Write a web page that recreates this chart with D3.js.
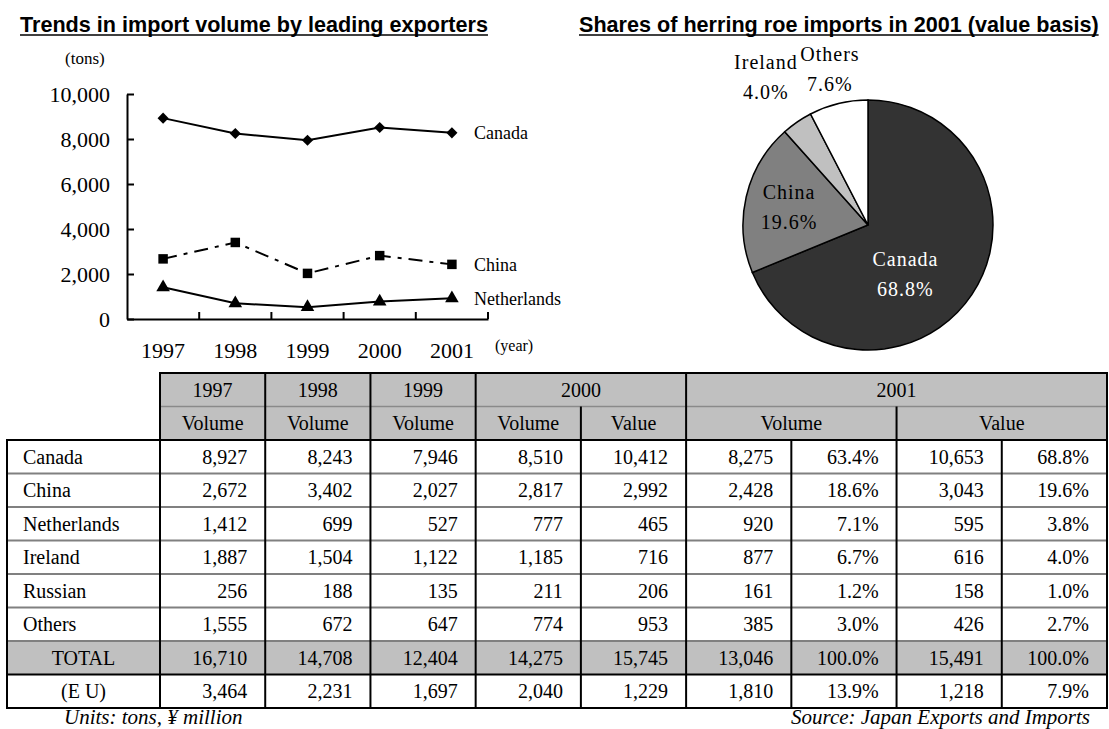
<!DOCTYPE html>
<html>
<head>
<meta charset="utf-8">
<script src="https://cdn.jsdelivr.net/npm/d3@7"></script>
<style>
  body { margin: 0; background: #fff; }
  text { font-family: "Liberation Serif", "Times New Roman", serif; fill: #000; }
</style>
</head>
<body>
<div id="chart"></div>
<script>
const years = ["1997", "1998", "1999", "2000", "2001"];
const rowNames = ["Canada", "China", "Netherlands", "Ireland", "Russian", "Others", "TOTAL", "(E U)"];
const vol1997 = [8927, 2672, 1412, 1887, 256, 1555, 16710, 3464];
const vol1998 = [8243, 3402, 699, 1504, 188, 672, 14708, 2231];
const vol1999 = [7946, 2027, 527, 1122, 135, 647, 12404, 1697];
const vol2000 = [8510, 2817, 777, 1185, 211, 774, 14275, 2040];
const val2000 = [10412, 2992, 465, 716, 206, 953, 15745, 1229];
const vol2001 = [8275, 2428, 920, 877, 161, 385, 13046, 1810];
const volShare2001 = [63.4, 18.6, 7.1, 6.7, 1.2, 3.0, 100.0, 13.9];
const val2001 = [10653, 3043, 595, 616, 158, 426, 15491, 1218];
const valShare2001 = [68.8, 19.6, 3.8, 4.0, 1.0, 2.7, 100.0, 7.9];

// line chart series (taken from the table rows)
const lineSeries = ["Canada", "China", "Netherlands"];
const yTicks = [0, 2000, 4000, 6000, 8000, 10000];

// pie
const pieNames = ["Canada", "China", "Ireland", "Others"];
const pieShares = [68.8, 19.6, 4.0, 7.6];
const pieColors = ["#333333", "#808080", "#c0c0c0", "#ffffff"];

const svg = d3.select("#chart").append("svg")
    .attr("width", 1109)
    .attr("height", 729);

svg.append("rect").attr("width", 1109).attr("height", 729).attr("fill", "#fff");

// underlined bold titles
function title(x, y, str) {
    const t = svg.append("text")
        .attr("x", x).attr("y", y)
        .style("font-family", "Arial, 'Liberation Sans', sans-serif")
        .style("font-weight", "bold")
        .style("font-size", "21.6px")
        .text(str);
    const w = t.node().getComputedTextLength();
    svg.append("line")
        .attr("x1", x).attr("x2", x + w)
        .attr("y1", y + 3).attr("y2", y + 3)
        .attr("stroke", "#000").attr("stroke-width", 1.5);
}
title(20, 32, "Trends in import volume by leading exporters");
title(579, 32, "Shares of herring roe imports in 2001 (value basis)");

// ---------- line chart ----------
const x = d3.scaleBand().domain(years).range([127, 488]);
const y = d3.scaleLinear().domain([0, 10000]).range([319, 94]);
const chart = svg.append("g");

const yAxis = chart.append("g")
    .attr("transform", "translate(127,0)")
    .call(d3.axisLeft(y).tickValues(yTicks).tickFormat(d3.format(","))
        .tickSize(-7).tickSizeOuter(0).tickPadding(17));
yAxis.selectAll("path, line").attr("stroke", "#000").attr("stroke-width", 2);
yAxis.selectAll("text").style("font-size", "22px").style("font-family", "'Liberation Serif', serif");

const xAxis = chart.append("g")
    .attr("transform", "translate(0,319)")
    .call(d3.axisBottom(x).tickSize(0).tickSizeOuter(0).tickPadding(23));
xAxis.select(".domain").attr("stroke", "#000").attr("stroke-width", 2);
xAxis.selectAll("text").style("font-size", "22px").style("font-family", "'Liberation Serif', serif");

// tick marks sit on the band boundaries
chart.append("g").selectAll("line")
    .data(years)
    .join("line")
    .attr("x1", d => x(d) + x.bandwidth())
    .attr("x2", d => x(d) + x.bandwidth())
    .attr("y1", 319).attr("y2", 312)
    .attr("stroke", "#000").attr("stroke-width", 2);

chart.append("text").attr("x", 65).attr("y", 64).style("font-size", "17px").text("(tons)");
chart.append("text").attr("x", 495).attr("y", 351).style("font-size", "16px").text("(year)");

const volCols = [vol1997, vol1998, vol1999, vol2000, vol2001];
const seriesDash = { Canada: null, China: "14,7,4,7", Netherlands: null };
const seriesSymbol = { Canada: d3.symbolSquare, China: d3.symbolSquare, Netherlands: d3.symbolTriangle };
const seriesSize = { Canada: 62, China: 90, Netherlands: 80 };

const line = d3.line()
    .x((d, i) => x(years[i]) + x.bandwidth() / 2)
    .y(d => y(d));

lineSeries.forEach(name => {
    const ri = rowNames.indexOf(name);
    const vals = volCols.map(c => c[ri]);

    chart.append("path")
        .datum(vals)
        .attr("d", line)
        .attr("fill", "none")
        .attr("stroke", "#000")
        .attr("stroke-width", 2)
        .attr("stroke-dasharray", seriesDash[name]);

    chart.append("g").selectAll("path")
        .data(vals)
        .join("path")
        .attr("d", d3.symbol().type(seriesSymbol[name]).size(seriesSize[name]))
        .attr("transform", (d, i) => {
            const px = x(years[i]) + x.bandwidth() / 2;
            const rot = name === "Canada" ? " rotate(45)" : "";
            return `translate(${px},${y(d)})${rot}`;
        })
        .attr("fill", "#000");

    chart.append("text")
        .attr("x", 474)
        .attr("y", y(vals[vals.length - 1]))
        .attr("dy", "0.35em")
        .style("font-size", "18px")
        .text(name);
});

// ---------- pie ----------
const pieR = 125;
const pieData = d3.pie().sort(null).value(d => d)(pieShares);
const arc = d3.arc().innerRadius(0).outerRadius(pieR);
const pg = svg.append("g").attr("transform", "translate(868,225)");

pg.selectAll("path")
    .data(pieData)
    .join("path")
    .attr("d", arc)
    .attr("fill", (d, i) => pieColors[i])
    .attr("stroke", "#000")
    .attr("stroke-width", 1.5);

// label distance from centre and angle nudge (degrees) for each slice
const labelDist = [62, 81, 180, 161];
const labelTurn = [19, 0, 0, 0];
const labelFill = ["#fff", "#000", "#000", "#000"];

pieData.forEach((d, i) => {
    const a = (d.startAngle + d.endAngle) / 2 + labelTurn[i] * Math.PI / 180;
    const lx = Math.sin(a) * labelDist[i];
    const ly = -Math.cos(a) * labelDist[i];
    const t = pg.append("text")
        .attr("text-anchor", "middle")
        .style("font-size", "20px")
        .style("letter-spacing", "1px")
        .style("fill", labelFill[i]);
    t.append("tspan").attr("x", lx).attr("y", ly - 15).attr("dy", "0.35em").text(pieNames[i]);
    t.append("tspan").attr("x", lx).attr("y", ly + 15).attr("dy", "0.35em").text(d3.format(".1f")(pieShares[i]) + "%");
});

// ---------- table ----------
const tableCols = [vol1997, vol1998, vol1999, vol2000, val2000, vol2001, volShare2001, val2001, valShare2001];
const colFormat = [",", ",", ",", ",", ",", ",", "%", ",", "%"];
const head1 = [
    { label: "1997", from: 0, to: 1 },
    { label: "1998", from: 1, to: 2 },
    { label: "1999", from: 2, to: 3 },
    { label: "2000", from: 3, to: 5 },
    { label: "2001", from: 5, to: 9 }
];
const head2 = [
    { label: "Volume", from: 0, to: 1 },
    { label: "Volume", from: 1, to: 2 },
    { label: "Volume", from: 2, to: 3 },
    { label: "Volume", from: 3, to: 4 },
    { label: "Value", from: 4, to: 5 },
    { label: "Volume", from: 5, to: 7 },
    { label: "Value", from: 7, to: 9 }
];

const tLeft = 7;
const cx = d3.scaleBand().domain(d3.range(9)).range([160, 1107]);
const ry = d3.scaleBand().domain(d3.range(10)).range([373, 708]);
const edge = k => k === 9 ? cx.range()[1] : cx(k);
const tbl = svg.append("g");

// shaded header and total row
tbl.append("rect")
    .attr("x", edge(0)).attr("y", ry(0))
    .attr("width", edge(9) - edge(0)).attr("height", ry.bandwidth() * 2)
    .attr("fill", "#c0c0c0");
tbl.append("rect")
    .attr("x", tLeft).attr("y", ry(8))
    .attr("width", edge(9) - tLeft).attr("height", ry.bandwidth())
    .attr("fill", "#c0c0c0");

const fs = "20px";
[head1, head2].forEach((hs, r) => {
    tbl.append("g").selectAll("text")
        .data(hs)
        .join("text")
        .attr("x", d => (edge(d.from) + edge(d.to)) / 2)
        .attr("y", ry(r) + ry.bandwidth() / 2)
        .attr("dy", "0.35em")
        .attr("text-anchor", "middle")
        .style("font-size", fs)
        .text(d => d.label);
});

rowNames.forEach((name, i) => {
    const r = i + 2;
    const centred = i >= 6;
    tbl.append("text")
        .attr("x", centred ? (tLeft + edge(0)) / 2 : 23)
        .attr("y", ry(r) + ry.bandwidth() / 2)
        .attr("dy", "0.35em")
        .attr("text-anchor", centred ? "middle" : "start")
        .style("font-size", fs)
        .text(name);

    tableCols.forEach((col, k) => {
        const v = col[i];
        const s = colFormat[k] === "%" ? d3.format(".1f")(v) + "%" : d3.format(",")(v);
        tbl.append("text")
            .attr("x", edge(k + 1) - 18)
            .attr("y", ry(r) + ry.bandwidth() / 2)
            .attr("dy", "0.35em")
            .attr("text-anchor", "end")
            .style("font-size", fs)
            .text(s);
    });
});

// grid lines
function hline(x1, x2, yy, color, w) {
    tbl.append("line").attr("x1", x1).attr("x2", x2).attr("y1", yy).attr("y2", yy)
        .attr("stroke", color).attr("stroke-width", w);
}
function vline(xx, y1, y2) {
    tbl.append("line").attr("x1", xx).attr("x2", xx).attr("y1", y1).attr("y2", y2)
        .attr("stroke", "#000").attr("stroke-width", 2);
}
const bottom = ry.range()[1];
hline(edge(0), edge(9), ry(1), "#8a8a8a", 1.5);
for (let r = 3; r <= 8; r++) hline(tLeft, edge(9), ry(r), "#808080", 2);
hline(edge(0) - 1, edge(9) + 1, ry(0), "#000", 2);
hline(tLeft - 1, edge(9) + 1, ry(2), "#000", 2);
hline(tLeft - 1, edge(9) + 1, ry(9), "#000", 2);
hline(tLeft - 1, edge(9) + 1, bottom, "#000", 2);

vline(tLeft, ry(2), bottom);
vline(edge(0), ry(0), bottom);
vline(edge(9), ry(0), bottom);
[1, 2, 3, 5].forEach(k => vline(edge(k), ry(0), bottom));
[4, 7].forEach(k => vline(edge(k), ry(1), bottom));
[6, 8].forEach(k => vline(edge(k), ry(2), bottom));

// footnotes
svg.append("text").attr("x", 64).attr("y", 724)
    .style("font-size", "21px").style("font-style", "italic")
    .text("Units: tons, \u00a5 million");
svg.append("text").attr("x", 1090).attr("y", 724)
    .attr("text-anchor", "end")
    .style("font-size", "21px").style("font-style", "italic")
    .text("Source: Japan Exports and Imports");
</script>
</body>
</html>
